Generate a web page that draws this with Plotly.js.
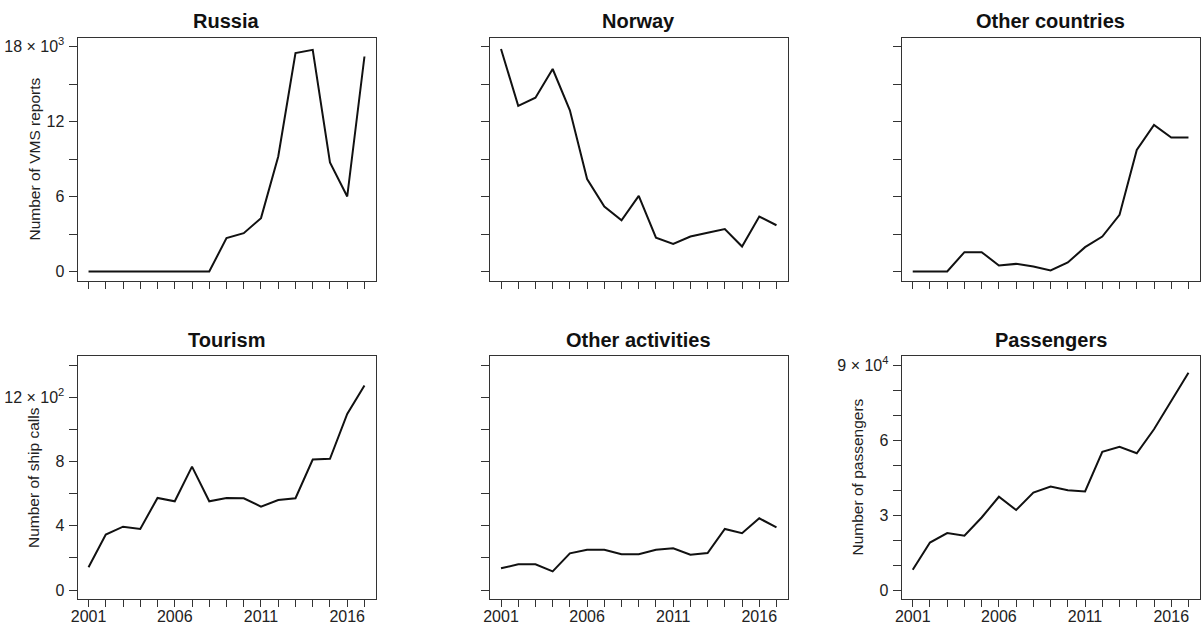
<!DOCTYPE html>
<html>
<head>
<meta charset="utf-8">
<script src="https://cdn.plot.ly/plotly-3.0.1.min.js"></script>
<style>html,body{margin:0;padding:0;background:#fff;}#chart{width:1203px;height:626px;}</style>
</head>
<body>
<div id="chart"></div>
<script>
// ---- data ----
const years = [2001,2002,2003,2004,2005,2006,2007,2008,2009,2010,2011,2012,2013,2014,2015,2016,2017];
const yearLabels = [2001,2006,2011,2016];

const russia = [0,0,0,0,0,0,0,0,2670,3070,4270,9200,17470,17730,8720,6000,17200];
const norway = [17800,13250,13900,16200,12900,7400,5200,4100,6050,2700,2200,2800,3100,3400,2000,4400,3700];
const otherCountries = [0,0,0,1550,1550,480,610,400,80,720,1950,2800,4530,9730,11730,10720,10720];

const tourism = [141,345,394,380,573,552,768,552,573,571,519,560,571,812,816,1096,1273];
const otherActivities = [135,160,160,116,228,251,251,222,222,251,260,220,230,380,353,446,390];
const passengers = [8100,19000,22800,21700,29000,37300,32000,39000,41400,39900,39400,55300,57300,54700,64300,75600,86900];

const titles = ["Russia","Norway","Other countries","Tourism","Other activities","Passengers"];

// labelled (major) and unlabelled (minor) ticks
const vmsMajor = [0,6000,12000,18000];
const vmsLabels = ["0","6","12","18 × 10<sup>3</sup>"];
const vmsMinor = [3000,9000,15000];
const callMajor = [0,400,800,1200];
const callLabels = ["0","4","8","12 × 10<sup>2</sup>"];
const callMinor = [200,600,1000,1400];
const paxMajor = [0,30000,60000,90000];
const paxLabels = ["0","3","6","9 × 10<sup>4</sup>"];
const paxMinor = [10000,20000,40000,50000,70000,80000];

const yTitles = {vms:"Number of VMS reports", calls:"Number of ship calls", pax:"Number of passengers"};

// ---- layout geometry (pixels) ----
const W = 1203, H = 626;
const cols = [[77.5,375.5],[490,787.5],[901.7,1199.5]];
const rows = [[37.5,280.5],[356,599]];
const FONT = "Liberation Sans, Arial, sans-serif";
const AX = '#333';

function xd(c){ return [cols[c][0]/W, cols[c][1]/W]; }
function yd(r){ return [1-rows[r][1]/H, 1-rows[r][0]/H]; }

function xaxis(c, r, anchor){
  const minorVals = years.filter(y => !yearLabels.includes(y));
  return {
    domain: xd(c), anchor: anchor, range:[2000.36, 2017.64],
    tickmode:'array', tickvals: yearLabels, ticktext: yearLabels.map(String),
    showticklabels: r === 1, ticklabelstandoff: -4,
    ticks:'outside', ticklen:7, tickwidth:1, tickcolor:AX,
    minor:{tickmode:'array', tickvals: minorVals, ticks:'outside', ticklen:7, tickwidth:1, tickcolor:AX, showgrid:false},
    showline:true, mirror:true, linecolor:AX, linewidth:1,
    showgrid:false, zeroline:false,
    tickfont:{family:FONT, size:16, color:'#222'}, fixedrange:true
  };
}
function yaxis(r, c, anchor, major, labels, minor, lo, hi, show){
  const ext = (hi-lo)*0.04;
  return {
    domain: yd(r), anchor: anchor, range:[lo-ext, hi+ext],
    tickmode:'array', tickvals: major, ticktext: labels,
    showticklabels: show, ticklabelstandoff: 1,
    ticks:'outside', ticklen:8, tickwidth:1, tickcolor:AX,
    minor:{tickmode:'array', tickvals: minor, ticks:'outside', ticklen:8, tickwidth:1, tickcolor:AX, showgrid:false},
    showline:true, mirror:true, linecolor:AX, linewidth:1,
    showgrid:false, zeroline:false,
    tickfont:{family:FONT, size:16, color:'#222'}, fixedrange:true
  };
}

const series = [russia, norway, otherCountries, tourism, otherActivities, passengers];
const traces = series.map((s,i) => ({
  x: years, y: s, type:'scatter', mode:'lines',
  line:{color:'#111', width:2},
  xaxis: i===0 ? 'x' : 'x'+(i+1),
  yaxis: i===0 ? 'y' : 'y'+(i+1),
  hoverinfo:'skip', showlegend:false
}));

const layout = {
  width: W, height: H,
  margin:{l:0,r:0,t:0,b:0},
  paper_bgcolor:'#fff', plot_bgcolor:'#fff',
  showlegend:false,
  xaxis: xaxis(0,0,'y'),
  xaxis2: xaxis(1,0,'y2'),
  xaxis3: xaxis(2,0,'y3'),
  xaxis4: xaxis(0,1,'y4'),
  xaxis5: xaxis(1,1,'y5'),
  xaxis6: xaxis(2,1,'y6'),
  yaxis: yaxis(0,0,'x', vmsMajor, vmsLabels, vmsMinor, 0, 18000, true),
  yaxis2: yaxis(0,1,'x2', vmsMajor, vmsLabels, vmsMinor, 0, 18000, false),
  yaxis3: yaxis(0,2,'x3', vmsMajor, vmsLabels, vmsMinor, 0, 18000, false),
  yaxis4: yaxis(1,0,'x4', callMajor, callLabels, callMinor, 0, 1400, true),
  yaxis5: yaxis(1,1,'x5', callMajor, callLabels, callMinor, 0, 1400, false),
  yaxis6: yaxis(1,2,'x6', paxMajor, paxLabels, paxMinor, 0, 90000, true),
  annotations: []
};

// panel titles
titles.forEach((t,i) => {
  const c = i % 3, r = Math.floor(i/3);
  const cx = (cols[c][0]+cols[c][1])/2;
  const cy = r === 0 ? 21 : 340;
  layout.annotations.push({
    xref:'paper', yref:'paper', x: cx/W, y: 1-cy/H,
    xanchor:'center', yanchor:'middle', showarrow:false,
    text:'<b>'+t+'</b>', font:{family:FONT, size:20, color:'#111'}
  });
});

// y-axis titles
function ytitle(text, px, r){
  const cy = (rows[r][0]+rows[r][1])/2;
  layout.annotations.push({
    xref:'paper', yref:'paper', x: px/W, y: 1-cy/H,
    xanchor:'center', yanchor:'middle', showarrow:false, textangle:-90,
    text: text, font:{family:FONT, size:15.5, color:'#222'}
  });
}
ytitle(yTitles.vms, 33.5, 0);
ytitle(yTitles.calls, 33.5, 1);
ytitle(yTitles.pax, 857, 1);

Plotly.newPlot('chart', traces, layout, {staticPlot:true, displayModeBar:false});
</script>
</body>
</html>
